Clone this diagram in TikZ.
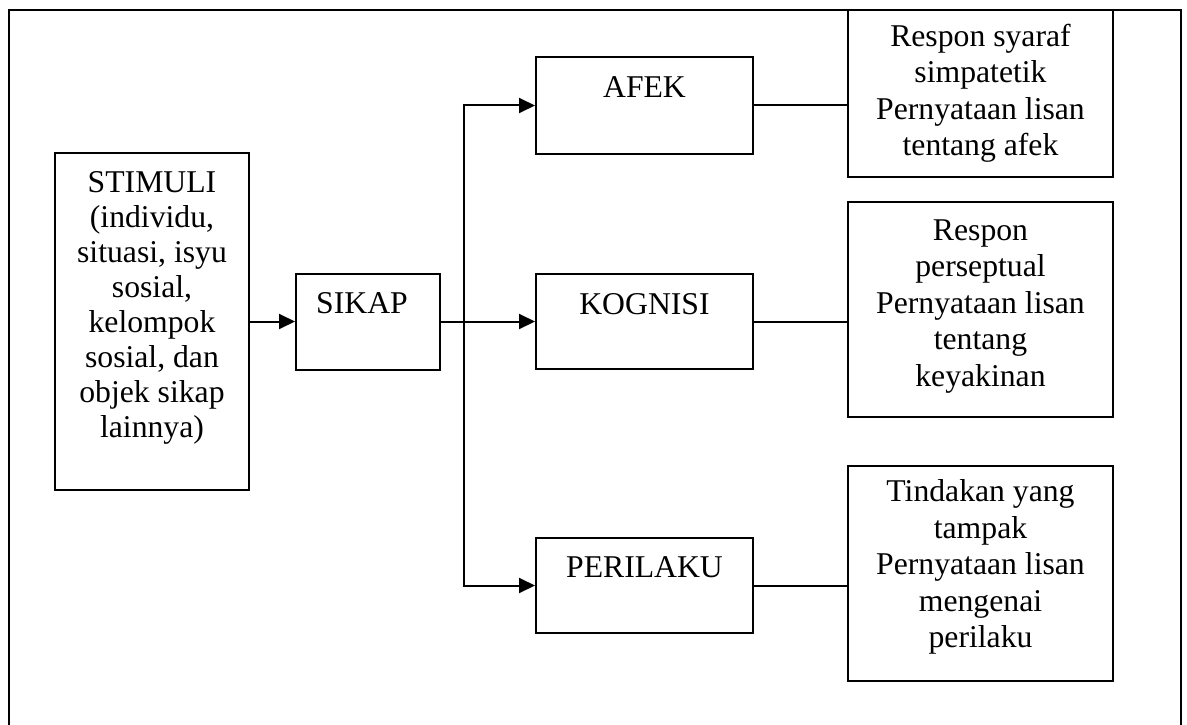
\documentclass[tikz,border=0pt]{standalone}
\usepackage{fontspec}
\setmainfont{Liberation Serif}
\usetikzlibrary{arrows.meta, positioning}

\begin{document}
\begin{tikzpicture}[x=1pt, y=-1pt,
  box/.style={rectangle, draw, line width=2pt, inner sep=0pt},
  boxtext/.style={font=\fontsize{31.7}{36.5}\selectfont, align=center, anchor=north, inner sep=0pt},
  link/.style={line width=2pt},
  arr/.style={link, -{Triangle[length=16pt, width=15pt]}}]
\path[use as bounding box, clip] (0,0) rectangle (1187,725);
% Outer frame (runs past the lower edge)
\draw[line width=2.6pt] (9,10) rectangle (1181,760);

% Empty boxes - text is placed separately below
\node[box, minimum width=194pt, minimum height=337pt] (stimuli) at (152,321.5) {};
\node[box, minimum width=144pt, minimum height=96pt] (sikap) at (368,321.5) {};
\node[box, minimum width=217pt, minimum height=96pt] (afek) at (644.5,105.5) {};
\node[box, minimum width=217pt, minimum height=95pt] (kognisi) at (644.5,321.5) {};
\node[box, minimum width=217pt, minimum height=95pt] (perilaku) at (644.5,585.5) {};
\node[box, minimum width=265pt, minimum height=167pt] (respafek) at (980.5,93.5) {};
\node[box, minimum width=265pt, minimum height=215pt] (respkog) at (980.5,309.5) {};
\node[box, minimum width=265pt, minimum height=215pt] (respperi) at (980.5,573.5) {};

% Text inside the boxes
\node[boxtext, font=\fontsize{31.7}{35}\selectfont] at (stimuli.north) [yshift=-19.5pt] {STIMULI\\(individu,\\situasi, isyu\\sosial,\\kelompok\\sosial, dan\\objek sikap\\lainnya)};
\node[boxtext] at (sikap.north) [yshift=-20pt, xshift=-6pt] {SIKAP};
\node[boxtext] at (afek.north) [yshift=-20pt] {AFEK};
\node[boxtext] at (kognisi.north) [yshift=-20pt] {KOGNISI};
\node[boxtext] at (perilaku.north) [yshift=-19pt] {PERILAKU};
\node[boxtext] at (respafek.north) [yshift=-14.5pt] {Respon syaraf\\simpatetik\\Pernyataan lisan\\tentang afek};
\node[boxtext] at (respkog.north) [yshift=-18.5pt] {Respon\\perseptual\\Pernyataan lisan\\tentang\\keyakinan};
\node[boxtext] at (respperi.north) [yshift=-14.5pt] {Tindakan yang\\tampak\\Pernyataan lisan\\mengenai\\perilaku};

% Arrows
\coordinate (split) at (464,321.5);
\draw[arr] (stimuli) -- (sikap);
\draw[arr] (sikap) -- (kognisi);
\draw[arr] (split) |- (afek);
\draw[arr] (split) |- (perilaku);

% Plain links to the response boxes
\draw[link] (afek.east) -- (afek.east -| respafek.west);
\draw[link] (kognisi.east) -- (kognisi.east -| respkog.west);
\draw[link] (perilaku.east) -- (perilaku.east -| respperi.west);
\end{tikzpicture}
\end{document}
